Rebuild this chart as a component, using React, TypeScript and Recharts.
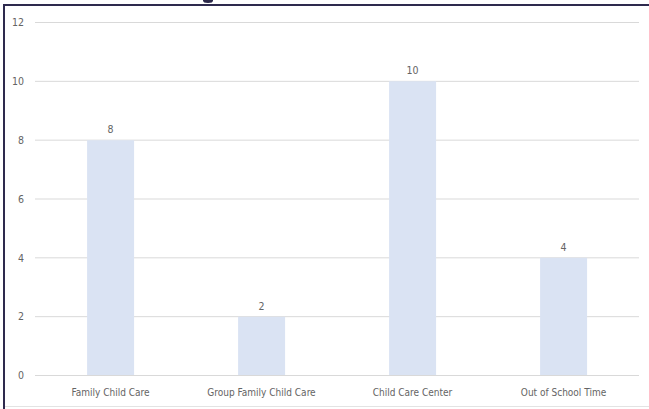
import { BarChart, Bar, XAxis, YAxis, CartesianGrid, LabelList } from "recharts"

const CATEGORIES = ["Family Child Care", "Group Family Child Care", "Child Care Center", "Out of School Time"]
const COUNTS = [8, 2, 10, 4]
const Y_TICKS = [0, 2, 4, 6, 8, 10, 12]

const data = CATEGORIES.map((name, i) => ({ name, count: COUNTS[i] }))

const FONT = "'DejaVu Sans Condensed', 'Liberation Sans Narrow', 'Open Sans', sans-serif"
const TEXT = "#646464"

export default function App() {
  return (
    <div style={{ position: "absolute", left: 0, top: 0, width: 649, height: 409, background: "#fff", overflow: "hidden", fontFamily: FONT }}>
      {/* frame bits from the cropped slide */}
      <div style={{ position: "absolute", left: 3, top: 4, width: 646, height: 2, background: "#2e2a4e" }} />
      <div style={{ position: "absolute", left: 3, top: 4, width: 2, height: 405, background: "#2e2a4e" }} />
      <div style={{ position: "absolute", left: 5, top: 406, width: 644, height: 1, background: "#e3e3e3" }} />
      <div style={{ position: "absolute", left: 203, top: -2, width: 10, height: 5, borderRadius: "50%", background: "#2b2849" }} />

      <div style={{ position: "absolute", left: 0, top: 0 }}>
        <BarChart
          width={649}
          height={409}
          data={data}
          margin={{ top: 22.5, right: 10, left: 0, bottom: 3.5 }}
          barCategoryGap="34.5%"
        >
          <CartesianGrid vertical={false} stroke="#d9d9d9" />
          <XAxis
            dataKey="name"
            height={30}
            axisLine={{ stroke: "#d9d9d9" }}
            tickLine={false}
            tickSize={0}
            tickMargin={13}
            tick={{ fill: TEXT, fontSize: 10, fontFamily: FONT }}
            interval={0}
          />
          <YAxis
            width={35}
            domain={[0, 12]}
            ticks={Y_TICKS}
            axisLine={false}
            tickLine={false}
            tickSize={0}
            tickMargin={11}
            tick={{ fill: TEXT, fontSize: 10.5, fontFamily: FONT }}
          />
          <Bar dataKey="count" fill="#dae3f3" isAnimationActive={false}>
            <LabelList
              dataKey="count"
              position="top"
              offset={7}
              style={{ fill: TEXT, fontSize: 10.5, fontFamily: FONT }}
            />
          </Bar>
        </BarChart>
      </div>
    </div>
  )
}
